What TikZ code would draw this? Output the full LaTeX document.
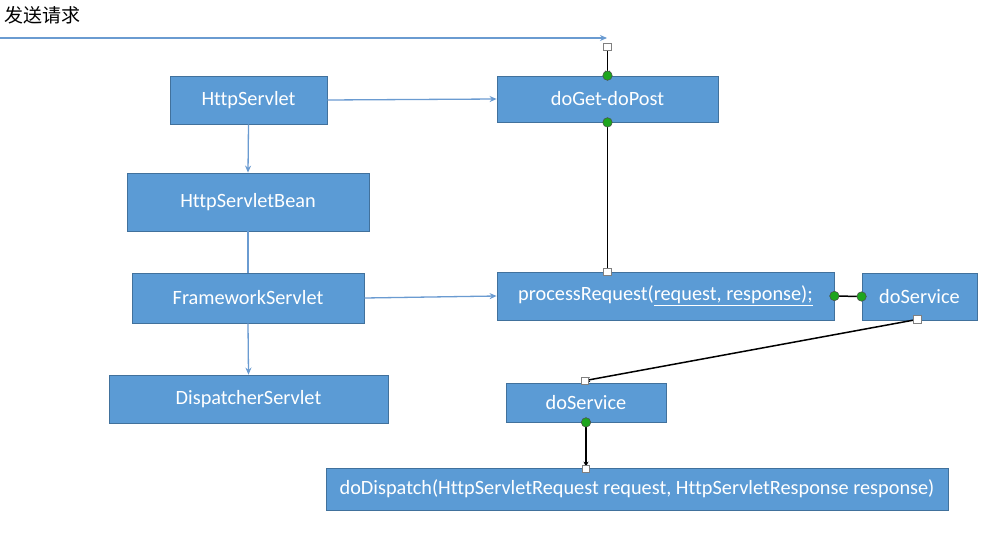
\documentclass[tikz,border=0pt]{standalone}
\usepackage{fontspec}
\setmainfont{Carlito}[Ligatures={NoCommon}]
\newfontfamily\cjk{Noto Sans CJK SC}
\usetikzlibrary{arrows.meta,calc}
\definecolor{boxfill}{HTML}{5B9BD5}
\definecolor{boxline}{HTML}{41719C}
\definecolor{lblue}{HTML}{6A9BD1}
\definecolor{gdotc}{HTML}{1EA51E}
\tikzset{
  box/.style={draw=boxline, line width=0.8pt, fill=boxfill, text=white, inner sep=0pt, font=\fontsize{20.3}{22}\selectfont},
  blink/.style={draw=lblue, line width=1.3pt, -{Stealth[length=7pt,width=6pt]}},
  bplain/.style={draw=lblue, line width=1.3pt},
  klink/.style={draw=black, line width=1.5pt},
  karrow/.style={draw=black, line width=1.5pt, -{Stealth[length=5pt,width=5pt]}},
  gdot/.style={circle, draw=black!70, line width=0.5pt, fill=gdotc, minimum size=9.5pt, inner sep=0pt},
  wsq/.style={rectangle, draw=black!50, line width=0.6pt, fill=white, minimum size=7.5pt, inner sep=0pt}
}
\begin{document}
\begin{tikzpicture}[x=1pt,y=-1pt]
\useasboundingbox[fill=white] (0,0) rectangle (981,535);
\node[anchor=west, font=\cjk\fontsize{19}{21}\selectfont] (title) at (1,15) {发送请求};

\node[box, minimum width=157pt, minimum height=48pt] (hs) at (248.5,100) {HttpServlet};
\node[box, minimum width=221pt, minimum height=46pt] (dg) at (607.5,99) {doGet-doPost};
\node[box, minimum width=242pt, minimum height=58pt] (hsb) at (248,202) {HttpServletBean};
\node[box, minimum width=232pt, minimum height=50pt] (fs) at (248,298) {FrameworkServlet};
\node[box, minimum width=279pt, minimum height=48pt] (ds) at (248.5,399) {DispatcherServlet};
\node[box, minimum width=337pt, minimum height=48pt] (pr) at (665.5,296) {processRequest(\underline{request, response);}};
\node[box, minimum width=115pt, minimum height=47pt] (s1) at (919.5,296.5) {doService};
\node[box, minimum width=160pt, minimum height=39pt] (s2) at (586,402.5) {doService};
\node[box, minimum width=622pt, minimum height=42pt] (dd) at (637,489) {doDispatch(HttpServletRequest request, HttpServletResponse response)};

% light blue connectors
\coordinate (reqstart) at (0,38);
\coordinate (reqend) at (607,38);
\draw[blink] (reqstart) -- (reqend);
\draw[blink] (hs.east) -- (dg.west);
\draw[blink] (hs.south) -- (hsb.north);
\draw[bplain] (hsb.south) -- (fs.north);
\draw[blink] (fs.east) -- (pr.west);
\draw[blink] (fs.south) -- (ds.north);

% black connectors with handles
\coordinate (reqsq) at (607.5,47);
\coordinate (prtop) at (pr.north -| dg.south);
\coordinate (s1bot) at ($(s1.south)+(-2,-1)$);
\coordinate (s2top) at ($(s2.north)+(-1,-2)$);
\coordinate (ddtop) at (dd.north -| s2.south);
\draw[karrow] (reqsq) -- (dg.north);
\draw[klink] (dg.south) -- (prtop);
\draw[klink] (pr.east) -- (s1.west);
\draw[karrow] (s1bot) -- (s2top);
\draw[karrow] (s2.south) -- ($(ddtop)+(0,-1)$);

\node[wsq] at (reqsq) {};
\node[gdot] at (dg.north) {};
\node[gdot] at (dg.south) {};
\node[wsq] at (prtop) {};
\node[gdot] at (pr.east) {};
\node[gdot] at (s1.west) {};
\node[wsq] at (s1bot) {};
\node[wsq] at (s2top) {};
\node[gdot] at (s2.south) {};
\node[wsq] at ($(ddtop)+(0,1)$) {};
\end{tikzpicture}
\end{document}
